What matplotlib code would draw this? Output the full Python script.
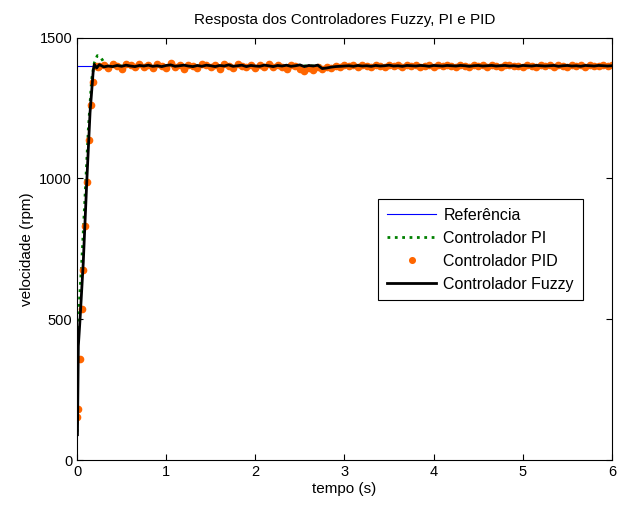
import numpy as np
import matplotlib
matplotlib.use("Agg")
import matplotlib.pyplot as plt

plt.rcParams["font.family"] = ["Liberation Sans", "DejaVu Sans"]

# Reference speed (rpm)
ref_t = [0.0, 6.0]
ref_v = [1400, 1400]

# PI controller (green dotted)
pi_t = [0.0, 0.008, 0.053, 0.09, 0.127, 0.164, 0.195, 0.228, 0.26, 0.29, 0.32, 0.36, 6.0]
pi_v = [100, 465, 702, 936, 1174, 1351, 1411, 1436, 1432, 1418, 1402, 1399, 1400]

# PID controller (orange dots) - rise part
pid_rise_t = [0.0, 0.015, 0.034, 0.056, 0.064, 0.09, 0.109, 0.138, 0.154, 0.183, 0.21, 0.23]
pid_rise_v = [152, 181, 358, 535, 675, 830, 987, 1138, 1262, 1343, 1400, 1395]

# Fuzzy controller (black) - rise part
fz_rise_t = [0.005, 0.015, 0.034, 0.07, 0.109, 0.146, 0.183, 0.195, 0.22]
fz_rise_v = [90, 405, 500, 700, 985, 1233, 1386, 1405, 1392]

# steady state samples, every 0.05 s from 0.25 to 6.0
ss_t = np.round(np.arange(0.25, 6.001, 0.05), 2)

pid_ss_v = [
    1398, 1404, 1392, 1406, 1399, 1390, 1405, 1401, 1394, 1407,
    1396, 1402, 1391, 1405, 1400, 1393, 1408, 1397, 1403, 1390,
    1404, 1399, 1392, 1406, 1401, 1395, 1403, 1390, 1405, 1398,
    1393, 1407, 1400, 1396, 1404, 1391, 1402, 1397, 1405, 1394,
    1401, 1396, 1390, 1403, 1398, 1388, 1380, 1392, 1386, 1394,
    1389, 1397, 1393, 1399, 1396, 1402, 1398, 1401, 1397, 1403,
    1399, 1396, 1402, 1400, 1397, 1403, 1398, 1401, 1396, 1402,
    1399, 1403, 1397, 1400, 1402, 1396, 1401, 1398, 1403, 1399,
    1397, 1402, 1400, 1396, 1403, 1398, 1401, 1397, 1402, 1399,
    1396, 1401, 1403, 1398, 1400, 1397, 1402, 1399, 1396, 1403,
    1398, 1401, 1397, 1402, 1400, 1396, 1403, 1399, 1401, 1397,
    1402, 1398, 1400, 1403, 1399, 1401,
]

fz_ss_v = [
    1404, 1396, 1399, 1397, 1401, 1398, 1402, 1399, 1397, 1401,
    1399, 1402, 1398, 1400, 1397, 1401, 1403, 1398, 1400, 1402,
    1399, 1397, 1401, 1398, 1402, 1400, 1397, 1401, 1399, 1403,
    1398, 1400, 1402, 1397, 1401, 1399, 1398, 1402, 1400, 1397,
    1401, 1399, 1402, 1398, 1400, 1403, 1397, 1401, 1399, 1402,
    1390, 1392, 1395, 1397, 1398, 1399, 1400, 1398, 1401, 1399,
    1400, 1398, 1401, 1399, 1400, 1402, 1399, 1400, 1398, 1401,
    1400, 1399, 1401, 1400, 1398, 1401, 1400, 1399, 1401, 1400,
    1399, 1401, 1400, 1398, 1400, 1401, 1399, 1400, 1401, 1399,
    1400, 1401, 1399, 1400, 1398, 1401, 1400, 1399, 1401, 1400,
    1399, 1400, 1401, 1398, 1400, 1401, 1399, 1400, 1398, 1401,
    1400, 1399, 1401, 1400, 1399, 1400,
]

pid_t = list(pid_rise_t) + list(ss_t)
pid_v = pid_rise_v + pid_ss_v
fz_t = list(fz_rise_t) + list(ss_t)
fz_v = fz_rise_v + fz_ss_v

fig = plt.figure(figsize=(6.21, 5.05), dpi=100)
ax = fig.add_axes([0.124, 0.089, 0.8615, 0.8366])

ax.plot(ref_t, ref_v, color="blue", lw=0.8, label="Referência")
ax.plot(pi_t, pi_v, color="#008000", lw=2, ls=":", label="Controlador PI")
ax.plot(pid_t, pid_v, ls="none", marker="o", ms=4.5, color="#ff6600", mec="#ff6600", label="Controlador PID")
ax.plot(fz_t, fz_v, color="black", lw=2, label="Controlador Fuzzy")

ax.set_xlim(0, 6)
ax.set_ylim(0, 1500)
ax.set_xticks(range(0, 7))
ax.set_yticks([0, 500, 1000, 1500])
ax.tick_params(direction="in", top=True, right=True, labelsize=10.5, length=4)
ax.set_xlabel("tempo (s)", fontsize=11, labelpad=2)
ax.set_ylabel("velocidade (rpm)", fontsize=11)
ax.set_title("Resposta dos Controladores Fuzzy, PI e PID", fontsize=11, pad=10)

leg = ax.legend(loc="upper left", bbox_to_anchor=(0.5626, 0.618), fontsize=11.5,
                handlelength=3.1, handletextpad=0.45, labelspacing=0.5,
                numpoints=1, markerscale=0.9, fancybox=False, borderaxespad=0,
                edgecolor="black", framealpha=1, borderpad=0.55)
leg.get_frame().set_linewidth(0.8)

plt.savefig("out.png", dpi=100)
plt.close()
